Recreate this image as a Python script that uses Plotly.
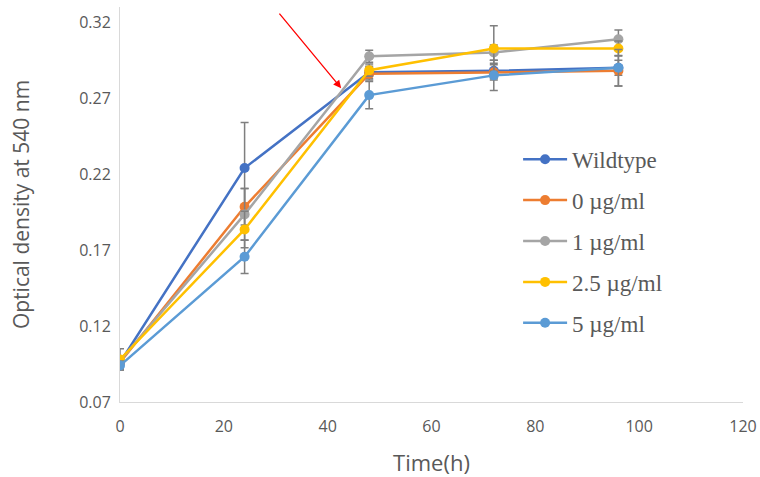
import plotly.graph_objects as go

time_h = [0, 24, 48, 72, 96]
series_names = ["Wildtype", "0 \u00b5g/ml", "1 \u00b5g/ml", "2.5 \u00b5g/ml", "5 \u00b5g/ml"]
wildtype = [0.096, 0.224, 0.287, 0.288, 0.290]
conc_0 = [0.096, 0.1985, 0.286, 0.287, 0.288]
conc_1 = [0.097, 0.1935, 0.2976, 0.300, 0.3088]
conc_2_5 = [0.098, 0.1836, 0.2884, 0.3027, 0.3027]
conc_5 = [0.094, 0.1656, 0.272, 0.285, 0.290]
err_wildtype = [0.004, 0.030, 0.004, 0.005, 0.005]
err_0 = [0.003, 0.012, 0.004, 0.005, 0.010]
err_1 = [0.003, 0.017, 0.004, 0.005, 0.006]
err_2_5 = [0.007, 0.012, 0.004, 0.015, 0.005]
err_5 = [0.003, 0.011, 0.009, 0.010, 0.012]
colors = ["#4472C4", "#ED7D31", "#A5A5A5", "#FFC000", "#5B9BD5"]
x_ticks = [0, 20, 40, 60, 80, 100, 120]
y_ticks = [0.07, 0.12, 0.17, 0.22, 0.27, 0.32]

values = [wildtype, conc_0, conc_1, conc_2_5, conc_5]
errors = [err_wildtype, err_0, err_1, err_2_5, err_5]

fig = go.Figure()
for i, (name, vals, errs, col) in enumerate(zip(series_names, values, errors, colors)):
    fig.add_trace(go.Scatter(
        x=time_h, y=vals, name=name, mode="lines+markers",
        line=dict(color=col, width=2.5),
        marker=dict(color=col, size=10),
        error_y=dict(type="data", array=errs, visible=True, color="#7F7F7F", thickness=1.5, width=4),
        legendgroup=f"g{i}",
    ))

tick_font = dict(family="Open Sans, Liberation Sans, sans-serif", size=16, color="#595959")
title_font = dict(family="Open Sans, Liberation Sans, sans-serif", size=21, color="#595959")

fig.update_layout(
    width=760, height=477,
    margin=dict(l=120, r=17, t=7, b=75),
    paper_bgcolor="white", plot_bgcolor="white",
    xaxis=dict(range=[0, 120], tickmode="array", tickvals=x_ticks, automargin=False,
               showgrid=False, zeroline=False, showline=True, linecolor="#D9D9D9", linewidth=1,
               ticks="", tickfont=tick_font, ticklabelstandoff=10,
               title=dict(text="Time(h)", font=dict(title_font, size=22), standoff=26)),
    yaxis=dict(range=[0.07, 0.33], tickmode="array", tickvals=y_ticks, automargin=False,
               tickformat=".2f", showgrid=False, zeroline=False, showline=True, linecolor="#D9D9D9",
               linewidth=1, ticks="", tickfont=tick_font, ticklabelstandoff=5,
               title=dict(text="Optical density at 540 nm", font=title_font, standoff=43)),
    legend=dict(x=0.639, y=0.669, xanchor="left", yanchor="top", itemwidth=44,
                font=dict(family="Liberation Serif, Times New Roman, serif", size=23, color="#595959"),
                tracegroupgap=8, bgcolor="rgba(0,0,0,0)"),
    showlegend=True,
)

fig.add_annotation(x=42.6, y=0.2766, xref="x", yref="y", ax=-63, ay=-76,
                   showarrow=True, arrowhead=2, arrowsize=1.2, arrowwidth=1.3,
                   arrowcolor="#FF0000", text="")

fig.write_html("out.html", config={"displayModeBar": False},
               post_script="document.body.style.margin='0';")
